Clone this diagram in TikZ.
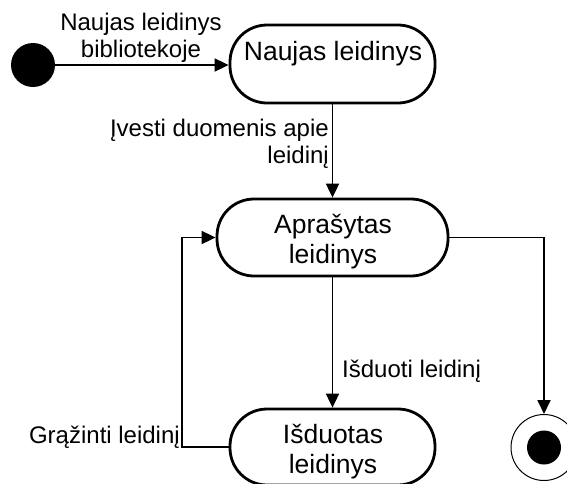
\documentclass[tikz,border=0pt]{standalone}
\usepackage{fontspec}
\setmainfont{Liberation Sans}
\usetikzlibrary{arrows.meta}
\tikzset{
  statebox/.style={draw, line width=2.8pt, rounded corners=37pt, inner sep=0pt},
  conn/.style={line width=1.8pt, -{Triangle[length=14pt,width=13pt]}},
  lbl/.style={inner sep=0pt, font=\fontsize{24}{27}\selectfont},
  stxt/.style={inner sep=0pt, font=\fontsize{26.5}{30}\selectfont, align=center}
}
\begin{document}
\begin{tikzpicture}[x=1pt,y=-1pt]
\useasboundingbox (0,0) rectangle (567,483);
% initial state
\node[circle, fill=black, minimum size=44pt, inner sep=0pt] (init) at (33,65) {};
% states
\node[statebox, minimum width=205pt, minimum height=78pt] (n1) at (332.5,64) {};
\node[stxt, anchor=base] (n1t) at (333,60) {Naujas leidinys};
\node[statebox, minimum width=231pt, minimum height=77pt] (a) at (332.5,237.5) {};
\node[stxt, anchor=base] (at) at (333,263) {Aprašytas\\leidinys};
\node[statebox, minimum width=205pt, minimum height=76pt] (i) at (332.5,447) {};
\node[stxt, anchor=base] (it) at (333,473) {Išduotas\\leidinys};
% final state
\node[circle, draw, line width=1pt, minimum size=66pt, inner sep=0pt] (f) at (544,447.5) {};
\node[circle, fill=black, minimum size=34pt, inner sep=0pt] (fi) at (544,447.5) {};
% connectors
\draw[conn] (init.east) -- (n1.west |- init.east);
\draw[conn] (n1.south) -- (a.north);
\draw[conn] (a.south) -- (i.north);
\draw[conn] (i.west) -- ++(-47,0) |- (a.west);
\draw[conn] (a.east) -| (f.north);
% labels
\node[lbl, align=center, anchor=base] (l1) at (141,57) {Naujas leidinys\\bibliotekoje};
\node[lbl, align=right, anchor=base east] (l2) at (329,163) {Įvesti duomenis apie\\leidinį};
\node[lbl, anchor=base west] (l3) at (342,377) {Išduoti leidinį};
\node[lbl, anchor=base east] (l4) at (180,443) {Grąžinti leidinį};
\end{tikzpicture}
\end{document}
